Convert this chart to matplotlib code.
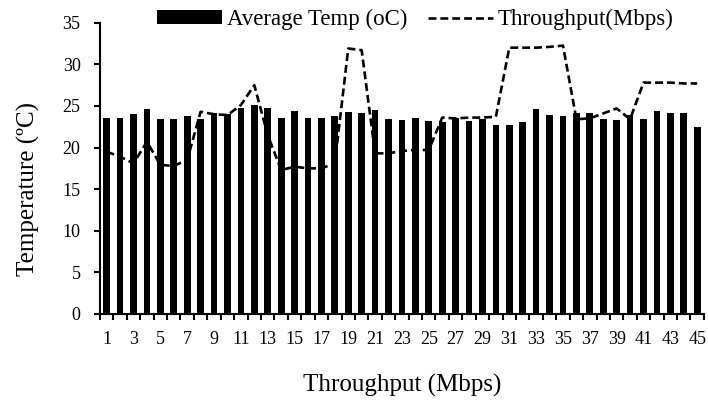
# Average temperature bars with throughput line
import numpy as np
import matplotlib.pyplot as plt

plt.rcParams['font.family'] = ['Liberation Serif', 'DejaVu Serif']

# Data
samples = list(range(1, 46))
avg_temp = [23.5, 23.6, 24.0, 24.6, 23.4, 23.4, 23.8, 23.4, 24.1, 24.0,
            24.8, 25.1, 24.7, 23.5, 24.4, 23.6, 23.6, 23.8, 24.3, 24.2,
            24.5, 23.4, 23.3, 23.5, 23.2, 23.1, 23.6, 23.2, 23.4, 22.7,
            22.7, 23.1, 24.6, 23.9, 23.8, 24.2, 24.1, 23.4, 23.3, 23.9,
            23.4, 24.4, 24.2, 24.1, 22.5]
throughput = [19.5, 18.9, 18.1, 20.7, 17.9, 17.8, 18.5, 24.3, 24.0, 23.9,
              25.1, 27.5, 21.5, 17.3, 17.7, 17.5, 17.5, 18.1, 31.9, 31.7,
              19.3, 19.3, 19.6, 19.7, 19.7, 23.6, 23.5, 23.6, 23.6, 23.7,
              32.0, 32.0, 32.0, 32.1, 32.25, 23.4, 23.5, 24.1, 24.7, 23.4,
              27.8, 27.8, 27.8, 27.7, 27.7]
y_ticks = [0, 5, 10, 15, 20, 25, 30, 35]

fig = plt.figure(figsize=(7.08, 4.04), dpi=100)
ax = fig.add_axes([0.1412, 0.2228, 0.853, 0.721])

bars = ax.bar(samples, avg_temp, width=0.5, color='black', label='Average Temp (oC)')
line, = ax.plot(samples, throughput, color='black', lw=1.9, linestyle=(0, (3, 1.5)),
                label='Throughput(Mbps)')

ax.set_xlim(0.5, 45.5)
ax.set_ylim(0, 35)
ax.set_yticks(y_ticks)
ax.set_xticks(samples[::2])
ax.set_xticks(np.arange(0.5, 46, 1), minor=True)
ax.tick_params(axis='x', which='major', length=0, labelsize=13, pad=12)
ax.tick_params(axis='x', which='minor', length=4, width=1.5, direction='out')
ax.tick_params(axis='y', length=4, width=1.5, labelsize=13, pad=10)

for side in ['top', 'right']:
    ax.spines[side].set_visible(False)
for side in ['left', 'bottom']:
    ax.spines[side].set_linewidth(1.5)

ax.set_ylabel('Temperature (ºC)', fontsize=18)
ax.yaxis.set_label_coords(-0.1, 0.43)
ax.set_xlabel('Throughput (Mbps)', fontsize=18, labelpad=19)

ax.legend(handles=[bars, line], loc='center', bbox_to_anchor=(0.522, 1.01),
          ncol=2, frameon=False, fontsize=16.5, handlelength=2.85,
          handleheight=0.57, columnspacing=0.9, handletextpad=0.2, borderaxespad=0)

fig.savefig('out.png', dpi=100)
